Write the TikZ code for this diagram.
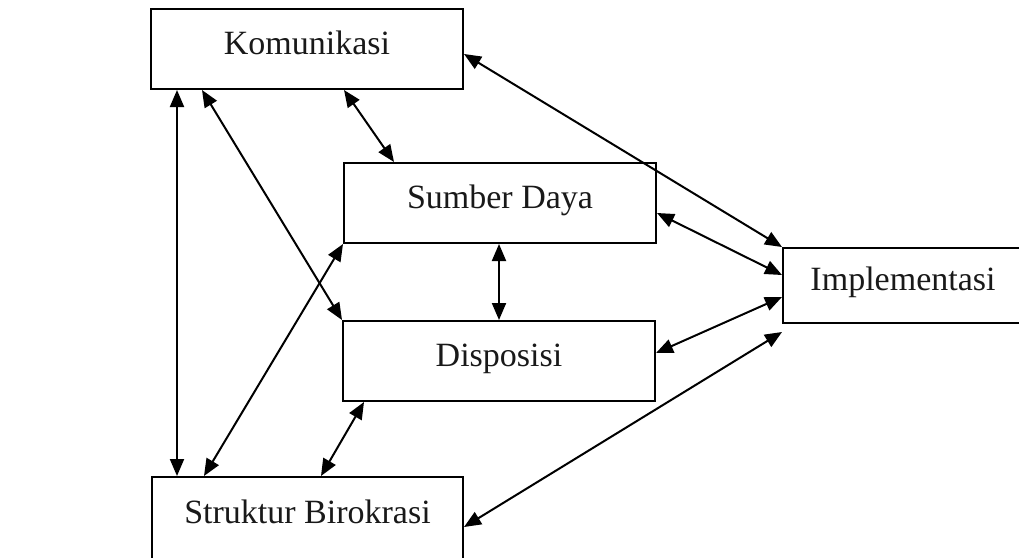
\documentclass[tikz,border=0pt]{standalone}
\usepackage{fontspec}
\setmainfont{Liberation Serif}
\usetikzlibrary{arrows.meta}
\begin{document}
\begin{tikzpicture}[x=1pt,y=-1pt,
  box/.style={draw=black,line width=2pt,rectangle,inner sep=0pt,
    text height=25pt,text depth=15pt,
    font=\fontsize{34}{40}\selectfont,text=black!90},
  link/.style={line width=2pt,{Triangle[length=17pt,width=14pt]}-{Triangle[length=17pt,width=14pt]}}]
\useasboundingbox (0,0) rectangle (1019,557);
\fill[white] (0,0) rectangle (1019,557);
\clip (0,0) rectangle (1019,557);
\node[box,minimum width=312pt,minimum height=80pt] (K) at (307,49) {Komunikasi};
\node[box,minimum width=312pt,minimum height=80pt] (S) at (500,203) {Sumber Daya};
\node[box,minimum width=312pt,minimum height=80pt] (D) at (499,361) {Disposisi};
\node[box,minimum width=311pt,minimum height=88pt,text depth=21pt] (SB) at (307.5,521) {Struktur Birokrasi};
\node[box,minimum width=240pt,minimum height=75pt] (I) at (903,285.5) {Implementasi};
\draw[link] ([xshift=27pt]K.south west) -- ([xshift=26pt]SB.north west);
\draw[link] ([xshift=52pt]K.south west) -- (D.north west);
\draw[link] ([xshift=194pt]K.south west) -- ([xshift=51pt]S.north west);
\draw[link] ([yshift=-46pt]K.north east) -- (I.north west);
\draw[link] ([yshift=-10pt]S.east) -- ([yshift=10.5pt]I.west);
\draw[link] ([xshift=-1pt]S.south) -- (D.north);
\draw[link] ([yshift=8pt]D.east) -- ([yshift=-11.5pt]I.west);
\draw[link] ([yshift=-51pt]SB.north east) -- ([yshift=-8pt]I.south west);
\draw[link] (S.south west) -- ([xshift=53pt]SB.north west);
\draw[link] ([xshift=22pt]D.south west) -- ([xshift=170pt]SB.north west);
\end{tikzpicture}
\end{document}
